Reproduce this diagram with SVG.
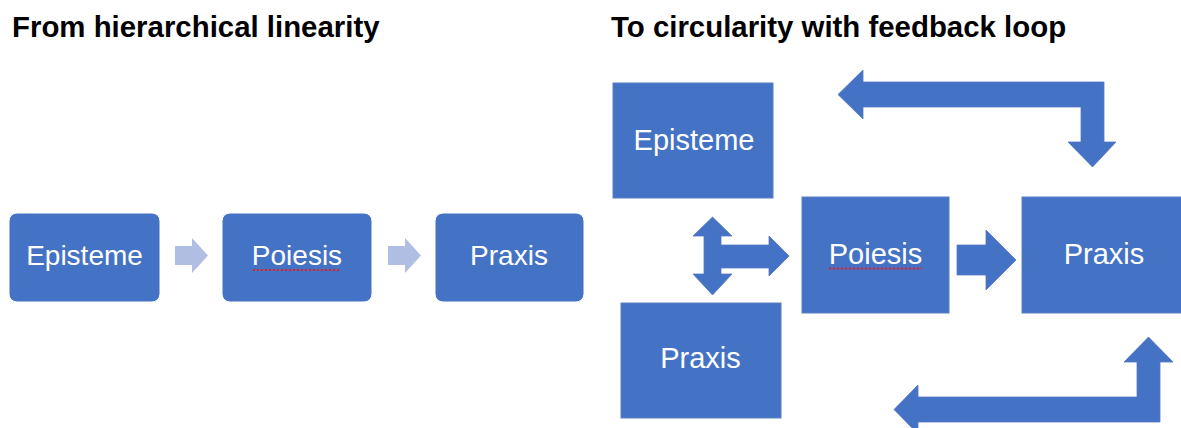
<svg xmlns="http://www.w3.org/2000/svg" width="1181" height="428" viewBox="0 0 1181 428">
  <style>
    .title { font-family: "Liberation Sans", Arial, sans-serif; font-weight: bold; font-size: 29.4px; fill: #000; }
    .lbl { font-family: "Liberation Sans", Arial, sans-serif; fill: #fff; text-anchor: middle; }
    .l { font-size: 28px; }
    .r { font-size: 29px; }
    .sbox { fill: #4472C4; stroke: #ffffff; stroke-width: 1; }
    .box { fill: #4472C4; stroke: #5B7FC6; stroke-width: 1; }
    .light { fill: #B1BEE3; }
    .blk { fill: #4472C4; stroke: #5577C4; stroke-width: 0.8; }
    .spell { stroke: #E02020; stroke-width: 2; stroke-dasharray: 2 2; fill: none; }
  </style>
  <rect width="1181" height="428" fill="#ffffff"/>

  <text class="title" x="12" y="37">From hierarchical linearity</text>
  <text class="title" x="611" y="37">To circularity with feedback loop</text>

  <!-- Left: linear -->
  <g id="left-episteme">
    <rect class="sbox" x="9" y="213" width="151" height="89" rx="8"/>
    <text class="lbl l" x="84.5" y="265">Episteme</text>
  </g>
  <g id="left-poiesis">
    <rect class="sbox" x="222" y="213" width="150" height="89" rx="8"/>
    <text class="lbl l" x="297" y="265">Poiesis</text>
    <line class="spell" x1="253" y1="270" x2="341" y2="270"/>
  </g>
  <g id="left-praxis">
    <rect class="sbox" x="435" y="213" width="149" height="89" rx="8"/>
    <text class="lbl l" x="509" y="265">Praxis</text>
  </g>

  <!-- Right: circular -->
  <g id="right-episteme">
    <rect class="box" x="613" y="83" width="160" height="115"/>
    <text class="lbl r" x="694" y="150">Episteme</text>
  </g>
  <g id="right-poiesis">
    <rect class="box" x="802" y="197" width="147" height="116"/>
    <text class="lbl r" x="875.5" y="264">Poiesis</text>
    <line class="spell" x1="829" y1="268.5" x2="922" y2="268.5"/>
  </g>
  <g id="right-praxis">
    <rect class="box" x="1022" y="197" width="165" height="116"/>
    <text class="lbl r" x="1104" y="264">Praxis</text>
  </g>
  <g id="right-praxis-bottom">
    <rect class="box" x="621" y="303" width="160" height="115"/>
    <text class="lbl r" x="700.5" y="368">Praxis</text>
  </g>

  <g id="connectors">
    <path class="light" d="M175,246 L192,246 L192,238 L208,255.5 L192,273 L192,265 L175,265 Z"/>
    <path class="light" d="M388,246 L405,246 L405,238 L421,255.5 L405,273 L405,265 L388,265 Z"/>
    <path class="blk" d="M712.5,217 L732,236 L721,236 L721,245 L769,245 L769,236 L789,256 L769,276 L769,268 L721,268 L721,274 L732,274 L712.5,295 L693,274 L704,274 L704,236 L693,236 Z"/>
    <path class="blk" d="M957,245 L986,245 L986,230 L1016,260 L986,290 L986,275 L957,275 Z"/>
    <path class="blk" d="M838,94.5 L863,70 L863,82 L1104,82 L1104,142 L1116,142 L1092.5,167 L1068,142 L1081,142 L1081,107 L863,107 L863,119 Z"/>
    <path class="blk" d="M894,409.5 L918,385 L918,397 L1137,397 L1137,362 L1124,362 L1148.5,337 L1173,362 L1160,362 L1160,422 L918,422 L918,434 Z"/>
  </g>
</svg>
